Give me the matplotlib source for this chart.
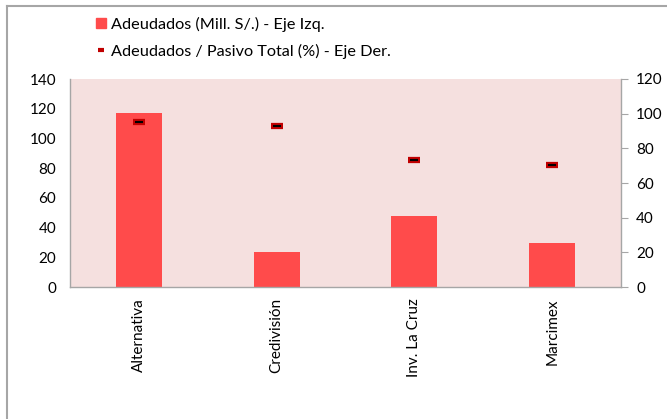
import matplotlib.pyplot as plt
from matplotlib.lines import Line2D

# Datos
empresas = ['Alternativa', 'Credivisión', 'Inv. La Cruz', 'Marcimex']
adeudados = [117.0, 23.5, 47.8, 29.6]          # Mill. S/. - eje izq.
ratio_pasivo = [95.4, 93.0, 73.3, 70.5]          # % - eje der.

bar_col = '#FF4B4B'
mk_col = '#C00000'
fondo = '#F5E0DF'
gris = '#A6A6A6'

plt.rcParams['font.family'] = ['Lato', 'DejaVu Sans']

fig = plt.figure(figsize=(6.67, 4.19), dpi=100)
ax = fig.add_axes([70/667, 1 - 287/419, (621-70)/667, (287-79)/419])
ax.set_facecolor(fondo)

x = range(len(empresas))
ax.bar(x, adeudados, width=0.335, color=bar_col, zorder=2)
ax.set_ylim(0, 140)
ax.set_yticks(range(0, 141, 20))
ax.set_xlim(-0.5, len(empresas) - 0.5)
ax.set_xticks(list(x))
ax.set_xticklabels(empresas, rotation=90, fontsize=11)
ax.tick_params(axis='x', length=0, pad=8)
ax.tick_params(axis='y', length=0, labelsize=11, pad=10)

ax2 = ax.twinx()
ax2.plot(x, ratio_pasivo, ls='none', marker='_', ms=9, mew=4.5, color=mk_col, zorder=3)
ax2.plot(x, ratio_pasivo, ls='none', marker='_', ms=5.5, mew=1.5, color='black', zorder=4)
ax2.set_ylim(0, 120)
ax2.set_yticks(range(0, 121, 20))
ax2.tick_params(axis='y', direction='out', length=5, color=gris, labelsize=11, pad=6)

for a in (ax, ax2):
    for s in a.spines.values():
        s.set_visible(False)
ax.spines['left'].set_visible(True)
ax.spines['bottom'].set_visible(True)
ax2.spines['right'].set_visible(True)
for s in (ax.spines['left'], ax.spines['bottom'], ax2.spines['right']):
    s.set_color(gris)
    s.set_linewidth(1)

# leyenda
handles = [Line2D([], [], ls='none', marker='s', ms=7, color=bar_col),
           Line2D([], [], ls='none', marker='_', ms=4, mew=3, color=mk_col)]
labels = ['Adeudados (Mill. S/.) - Eje Izq.', 'Adeudados / Pasivo Total (%) - Eje Der.']
fig.legend(handles, labels, loc='upper left', bbox_to_anchor=(90/667, 1 - 10/419),
           frameon=False, fontsize=11.7, handlelength=0.6, handletextpad=0.3,
           labelspacing=0.75, borderaxespad=0)

# marco del gráfico
fig.add_artist(Line2D([7/667, 1], [1 - 6/419, 1 - 6/419], color=gris, lw=1.5))
fig.add_artist(Line2D([7/667, 7/667], [0, 1 - 6/419], color=gris, lw=1.5))

fig.savefig('out.png', dpi=100)
